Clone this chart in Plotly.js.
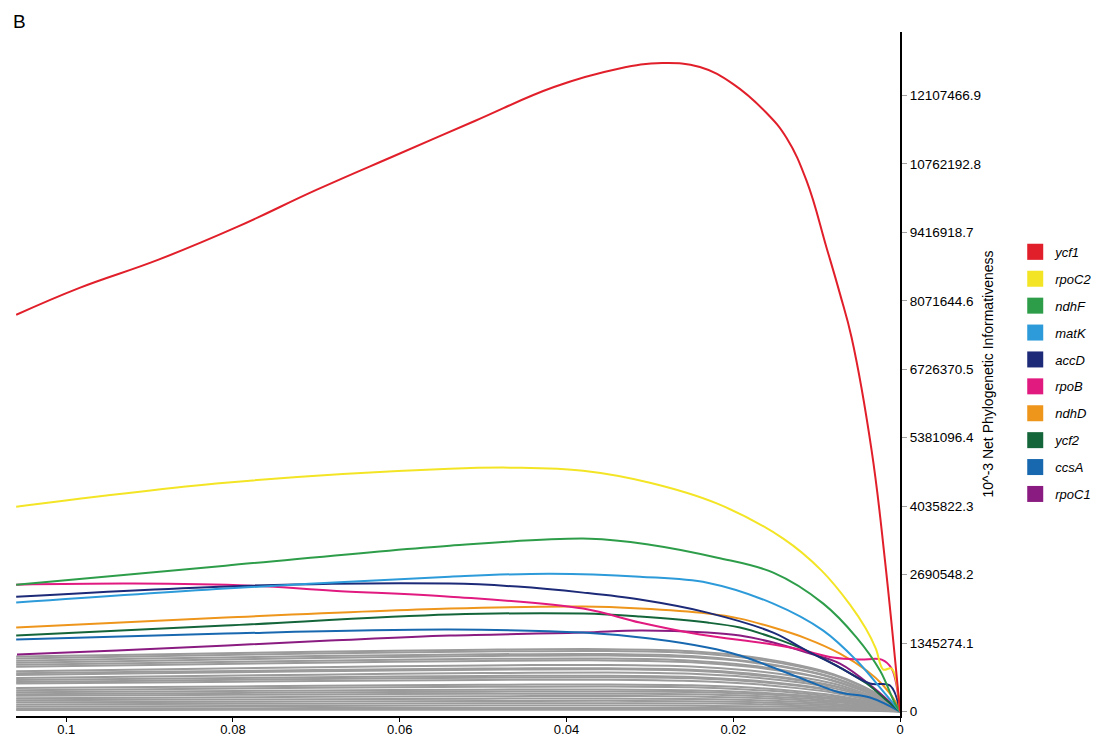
<!DOCTYPE html>
<html>
<head>
<meta charset="utf-8">
<script src="https://cdn.plot.ly/plotly-3.0.1.min.js"></script>
<style>
  html, body { margin: 0; padding: 0; background: #ffffff; }
  #chart { width: 1094px; height: 738px; }
</style>
</head>
<body>
<div id="chart"></div>
<script>
// ---------------- data ----------------
const geneNames = ['ycf1', 'rpoC2', 'ndhF', 'matK', 'accD', 'rpoB', 'ndhD', 'ycf2', 'ccsA', 'rpoC1'];

const ycf1X = [0.1060, 0.0984, 0.0890, 0.0795, 0.0700, 0.0604, 0.0510, 0.0415, 0.0339, 0.0285, 0.0240, 0.0200, 0.0160, 0.0136, 0.0112, 0.0088, 0.0072, 0.0058, 0.0034, 0.0018, 0];
const ycf1Y = [7797000, 8327000, 8877000, 9525000, 10252000, 10939000, 11607000, 12274000, 12628000, 12746000, 12667000, 12333000, 11764000, 11273000, 10428000, 9112000, 8209000, 7345000, 5126000, 2965000, 0];

const rpoC2X = [0.1060, 0.0809, 0.0540, 0.0459, 0.0380, 0.0300, 0.0219, 0.0140, 0.0094, 0.0060, 0.0041, 0.0029, 0.0020, 0.0010, 0];
const rpoC2Y = [4026000, 4497000, 4772000, 4792000, 4733000, 4497000, 4085000, 3398000, 2769000, 2101000, 1630000, 1237000, 825000, 844000, 0];

const ndhFX = [0.1060, 0.0809, 0.0540, 0.0372, 0.0300, 0.0219, 0.0152, 0.0092, 0.0052, 0.0024, 0.0006, 0];
const ndhFY = [2494000, 2867000, 3260000, 3398000, 3280000, 3024000, 2730000, 2121000, 1453000, 805000, 157000, 0];

const matKX = [0.1060, 0.0809, 0.0540, 0.0420, 0.0312, 0.0231, 0.0152, 0.0092, 0.0052, 0.0028, 0.0008, 0];
const matKY = [2141000, 2416000, 2651000, 2710000, 2651000, 2533000, 2121000, 1591000, 1002000, 550000, 157000, 0];

const accDX = [0.1060, 0.0779, 0.0540, 0.0459, 0.0380, 0.0312, 0.0231, 0.0152, 0.0112, 0.0072, 0.0036, 0.0012, 0];
const accDY = [2258000, 2474000, 2514000, 2455000, 2337000, 2200000, 1944000, 1551000, 1198000, 864000, 550000, 511000, 0];

const rpoBX = [0.1060, 0.0920, 0.0779, 0.0680, 0.0540, 0.0380, 0.0312, 0.0240, 0.0160, 0.0120, 0.0080, 0.0048, 0.0022, 0.0010, 0];
const rpoBY = [2494000, 2514000, 2474000, 2376000, 2258000, 2023000, 1748000, 1512000, 1335000, 1218000, 1060000, 1021000, 1021000, 844000, 0];

const ndhDX = [0.1060, 0.0809, 0.0540, 0.0380, 0.0312, 0.0231, 0.0192, 0.0152, 0.0112, 0.0072, 0.0040, 0.0020, 0.0004, 0];
const ndhDY = [1650000, 1846000, 2023000, 2062000, 2023000, 1925000, 1826000, 1650000, 1434000, 1139000, 805000, 511000, 157000, 0];

const ycf2X = [0.1060, 0.0809, 0.0540, 0.0380, 0.0312, 0.0231, 0.0192, 0.0152, 0.0112, 0.0072, 0.0040, 0.0016, 0];
const ycf2Y = [1493000, 1689000, 1905000, 1925000, 1866000, 1748000, 1650000, 1453000, 1198000, 864000, 550000, 216000, 0];

const ccsAX = [0.1060, 0.0809, 0.0540, 0.0380, 0.0300, 0.0231, 0.0192, 0.0152, 0.0112, 0.0072, 0.0036, 0];
const ccsAY = [1414000, 1532000, 1610000, 1551000, 1434000, 1257000, 1100000, 864000, 609000, 373000, 275000, 0];

const rpoC1X = [0.1059, 0.0939, 0.0684, 0.0540, 0.0380, 0.0312, 0.0231, 0.0192, 0.0152, 0.0112, 0.0072, 0.0032, 0];
const rpoC1Y = [1119000, 1198000, 1394000, 1493000, 1551000, 1591000, 1551000, 1493000, 1355000, 1159000, 943000, 471000, 0];

// remaining (unlabelled) loci, drawn in grey
const grayX = [0.106, 0.09, 0.07, 0.05, 0.035, 0.025, 0.018, 0.012, 0.008, 0.005, 0.0025, 0];
const grayLines = [
  [1080000, 1120000, 1175000, 1215000, 1225000, 1185000, 1075000, 905000, 735000, 540000, 325000, 0],
  [1040000, 1085000, 1140000, 1180000, 1190000, 1150000, 1045000, 880000, 715000, 525000, 315000, 0],
  [1000000, 1040000, 1090000, 1125000, 1130000, 1090000, 985000, 825000, 665000, 485000, 290000, 0],
  [960000, 1000000, 1050000, 1090000, 1100000, 1065000, 970000, 815000, 660000, 480000, 290000, 0],
  [920000, 955000, 1000000, 1035000, 1040000, 1000000, 905000, 755000, 610000, 445000, 265000, 0],
  [880000, 915000, 960000, 995000, 1005000, 970000, 880000, 740000, 600000, 440000, 265000, 0],
  [790000, 825000, 870000, 905000, 915000, 885000, 805000, 680000, 550000, 400000, 240000, 0],
  [750000, 780000, 815000, 845000, 850000, 820000, 745000, 625000, 505000, 370000, 220000, 0],
  [720000, 750000, 790000, 820000, 830000, 800000, 725000, 610000, 495000, 360000, 215000, 0],
  [660000, 690000, 725000, 755000, 765000, 740000, 675000, 570000, 460000, 335000, 200000, 0],
  [620000, 645000, 675000, 700000, 705000, 680000, 615000, 515000, 415000, 305000, 185000, 0],
  [580000, 605000, 640000, 665000, 675000, 655000, 595000, 500000, 405000, 295000, 180000, 0],
  [550000, 570000, 600000, 620000, 625000, 600000, 545000, 455000, 370000, 270000, 160000, 0],
  [460000, 480000, 505000, 525000, 530000, 515000, 470000, 395000, 320000, 235000, 140000, 0],
  [420000, 440000, 465000, 485000, 490000, 475000, 430000, 360000, 290000, 215000, 130000, 0],
  [380000, 395000, 415000, 430000, 435000, 420000, 380000, 320000, 260000, 190000, 115000, 0],
  [340000, 355000, 375000, 390000, 395000, 385000, 350000, 295000, 240000, 175000, 105000, 0],
  [310000, 320000, 335000, 350000, 350000, 340000, 310000, 260000, 210000, 155000, 95000, 0],
  [260000, 272000, 288000, 300000, 305000, 295000, 270000, 228000, 185000, 135000, 82000, 0],
  [220000, 230000, 243000, 253000, 255000, 247000, 225000, 190000, 155000, 113000, 68000, 0],
  [180000, 188000, 198000, 207000, 210000, 203000, 185000, 156000, 127000, 93000, 56000, 0],
  [140000, 147000, 155000, 162000, 165000, 160000, 146000, 123000, 100000, 73000, 44000, 0],
  [100000, 105000, 111000, 116000, 118000, 114000, 104000, 88000, 71000, 52000, 31000, 0],
  [60000, 63000, 67000, 70000, 71000, 69000, 63000, 53000, 43000, 31000, 19000, 0],
  [30000, 32000, 34000, 36000, 36000, 35000, 32000, 27000, 22000, 16000, 10000, 0]
];

// axis ticks
const xTickVals = [0.1, 0.08, 0.06, 0.04, 0.02, 0];
const xTickText = ['0.1', '0.08', '0.06', '0.04', '0.02', '0'];
const yTickVals = [0, 1345274.1, 2690548.2, 4035822.3, 5381096.4, 6726370.5, 8071644.6, 9416918.7, 10762192.8, 12107466.9];
const yTickText = ['0', '1345274.1', '2690548.2', '4035822.3', '5381096.4', '6726370.5', '8071644.6', '9416918.7', '10762192.8', '12107466.9'];

// ---------------- styles ----------------
const geneColors = ['#E11F2A', '#F3E525', '#2E9D4A', '#2D9BD9', '#1D2A78', '#E11A80', '#EE951C', '#14663A', '#1868B0', '#8A1B80'];
const FONT = 'Liberation Sans, Arial, Helvetica, sans-serif';

const seriesX = [ycf1X, rpoC2X, ndhFX, matKX, accDX, rpoBX, ndhDX, ycf2X, ccsAX, rpoC1X];
const seriesY = [ycf1Y, rpoC2Y, ndhFY, matKY, accDY, rpoBY, ndhDY, ycf2Y, ccsAY, rpoC1Y];

const traces = [];
grayLines.forEach(function (ys) {
  traces.push({
    type: 'scatter', mode: 'lines', x: grayX, y: ys,
    line: { color: '#9B9B9B', width: 2, shape: 'spline', smoothing: 0.9 },
    showlegend: false, hoverinfo: 'skip'
  });
});
for (let i = geneNames.length - 1; i >= 0; i--) {
  traces.push({
    type: 'scatter', mode: 'lines', x: seriesX[i], y: seriesY[i], name: geneNames[i],
    line: { color: geneColors[i], width: 2, shape: 'spline', smoothing: i === 0 ? 1.2 : 1.0 },
    showlegend: false
  });
}
// legend entries (square swatches)
geneNames.forEach(function (g, i) {
  traces.push({
    type: 'scatter', mode: 'markers', x: [null], y: [null], name: g,
    legendgroup: g,
    marker: { symbol: 'square', size: 16, color: geneColors[i] },
    showlegend: true, hoverinfo: 'skip'
  });
});

const layout = {
  width: 1094, height: 738,
  margin: { l: 16, r: 194, t: 32, b: 22, pad: 0, autoexpand: false },
  paper_bgcolor: '#ffffff', plot_bgcolor: '#ffffff',
  font: { family: FONT, color: '#000000', size: 13 },
  showlegend: true,
  legend: {
    xref: 'container', yref: 'container',
    x: 0.928, xanchor: 'left', y: 0.679, yanchor: 'top',
    font: { family: FONT, size: 13, style: 'italic', color: '#000' },
    tracegroupgap: 7, bgcolor: 'rgba(0,0,0,0)', borderwidth: 0
  },
  xaxis: {
    range: [0.10602, 0], tickmode: 'array', tickvals: xTickVals, ticktext: xTickText,
    ticks: 'outside', ticklen: 4, tickwidth: 1, tickcolor: '#000',
    ticklabelstandoff: -4,
    showline: true, linecolor: '#000', linewidth: 2,
    showgrid: false, zeroline: false, automargin: false,
    tickfont: { family: FONT, size: 13, color: '#000' }
  },
  yaxis: {
    side: 'right', range: [-88000, 13356000],
    tickmode: 'array', tickvals: yTickVals, ticktext: yTickText,
    ticks: 'outside', ticklen: 5, tickwidth: 1, tickcolor: '#A0A0A0',
    showline: true, linecolor: '#000', linewidth: 2,
    showgrid: false, zeroline: false, automargin: false,
    tickfont: { family: FONT, size: 13.5, color: '#000' },
    title: { text: '10^-3 Net Phylogenetic Informativeness', font: { family: FONT, size: 14, color: '#000' }, standoff: 3 }
  },
  annotations: [{
    text: 'B', xref: 'paper', yref: 'paper', x: -0.006, y: 1.015,
    xanchor: 'left', yanchor: 'middle', showarrow: false,
    font: { family: FONT, size: 19, color: '#000' }
  }]
};

Plotly.newPlot('chart', traces, layout, { displayModeBar: false, staticPlot: true });
</script>
</body>
</html>
